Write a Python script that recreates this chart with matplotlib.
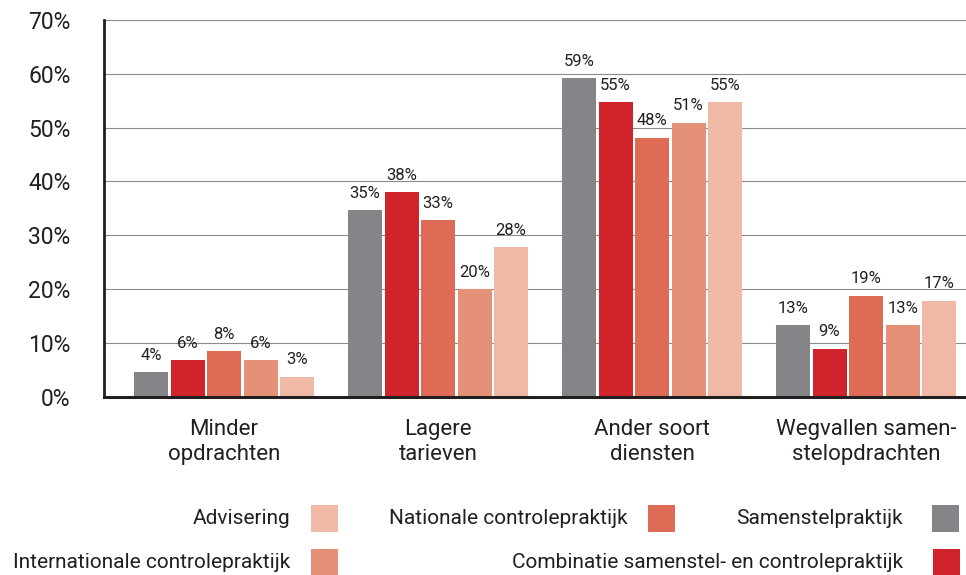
import matplotlib
matplotlib.use("Agg")
import matplotlib.pyplot as plt
from matplotlib.patches import Rectangle
import numpy as np

plt.rcParams['font.family'] = ['Roboto', 'DejaVu Sans']
TXT = "#231f20"

categories = ["Minder\nopdrachten", "Lagere\ntarieven", "Ander soort\ndiensten", "Wegvallen samen-\nstelopdrachten"]
series = ["Samenstelpraktijk", "Combinatie samenstel- en controlepraktijk",
          "Nationale controlepraktijk", "Internationale controlepraktijk", "Advisering"]
colors = ["#858589", "#d0232b", "#de6b55", "#e59178", "#f0b9a6"]

# bar heights as drawn (%), and the printed labels
samenstel = [4.5, 34.7, 59.2, 13.3]
combinatie = [6.8, 38.0, 54.7, 8.9]
nationaal = [8.4, 32.8, 48.1, 18.8]
internationaal = [6.8, 20.0, 50.9, 13.3]
advisering = [3.7, 27.8, 54.7, 17.8]
values = [samenstel, combinatie, nationaal, internationaal, advisering]

lab_samenstel = ["4%", "35%", "59%", "13%"]
lab_combinatie = ["6%", "38%", "55%", "9%"]
lab_nationaal = ["8%", "33%", "48%", "19%"]
lab_internationaal = ["6%", "20%", "51%", "13%"]
lab_advisering = ["3%", "28%", "55%", "17%"]
labels = [lab_samenstel, lab_combinatie, lab_nationaal, lab_internationaal, lab_advisering]

W, H = 966, 575
fig = plt.figure(figsize=(W / 100, H / 100), dpi=100)
ax = fig.add_axes([104 / W, (H - 396.7) / H, 1 - 104 / W, (396.7 - 20) / H])

x = np.arange(len(categories))
step, bw = 0.1706, 0.159
for i, (vals, labs, c) in enumerate(zip(values, labels, colors)):
    xs = x + (i - 2) * step
    ax.bar(xs, vals, width=bw, color=c, zorder=3)
    for xx, v, t in zip(xs, vals, labs):
        ax.annotate(t, (xx, v), xytext=(0, 12.2), textcoords="offset points",
                    ha="center", va="center", fontsize=12, color=TXT)

ax.set_xlim(-0.561, 3.467)
ax.set_ylim(0, 70)
ax.set_yticks(range(0, 71, 10))
ax.set_yticklabels([f"{v}%" for v in range(0, 71, 10)], fontsize=16.5, color=TXT)
ax.set_xticks(x)
ax.set_xticklabels(categories, fontsize=16, color=TXT, linespacing=1.27)
ax.tick_params(axis="y", length=0, pad=24)
ax.tick_params(axis="x", length=0, pad=16)
ax.grid(axis="y", color="#8a8a8a", lw=0.8, zorder=0)
ax.set_axisbelow(True)
for s in ["top", "right"]:
    ax.spines[s].set_visible(False)
for s in ["left", "bottom"]:
    ax.spines[s].set_color(TXT)
    ax.spines[s].set_zorder(4)
ax.spines["left"].set_linewidth(2)
ax.spines["bottom"].set_linewidth(2.2)

# legend drawn by hand (pixel positions: text right edge, patch left, row centre)
leg = [("Advisering", 4, 290, 311, 518.5),
       ("Nationale controlepraktijk", 2, 628, 648, 518.5),
       ("Samenstelpraktijk", 0, 903, 932, 518.5),
       ("Internationale controlepraktijk", 3, 290, 311, 562.5),
       ("Combinatie samenstel- en controlepraktijk", 1, 903, 933, 562.5)]
for name, ci, tx, px, cy in leg:
    fig.text(tx / W, 1 - cy / H, name, ha="right", va="center", fontsize=15, color=TXT)
    fig.patches.append(Rectangle((px / W, 1 - (cy + 13.5) / H), 27 / W, 27 / H,
                                 transform=fig.transFigure, facecolor=colors[ci], edgecolor="none"))

fig.savefig("out.png", dpi=100, facecolor="white")
